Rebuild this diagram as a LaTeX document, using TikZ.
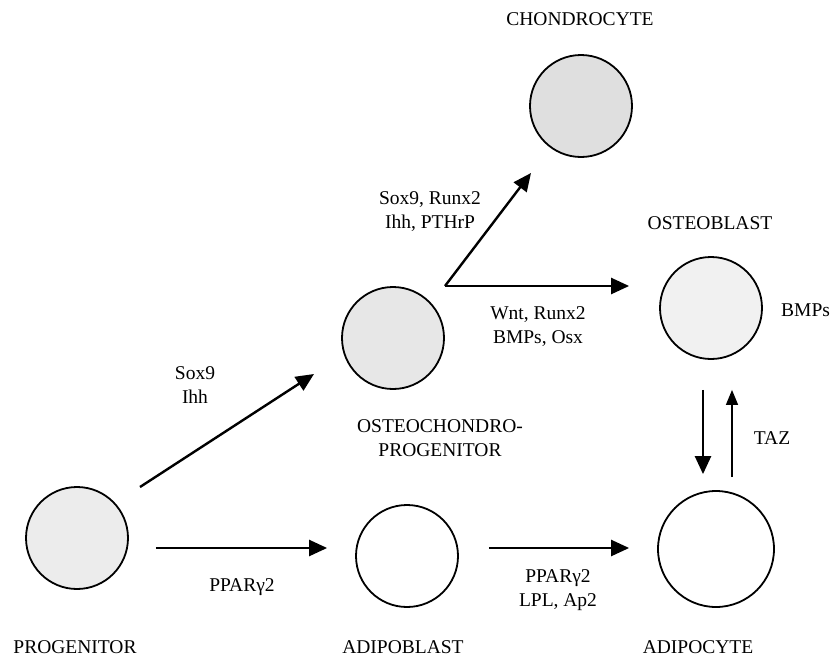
\documentclass[tikz,border=0pt]{standalone}
\usepackage{fontspec}
\setmainfont{Liberation Serif}
\usepackage{tikz}
\usetikzlibrary{arrows.meta}

\tikzset{
    cell/.style={circle, draw, line width=1.8pt, minimum size=102pt, inner sep=0pt},
    arr/.style={line width=2.4pt, -{Triangle[length=18pt,width=16pt]}},
    thinarr/.style={line width=1.4pt, -{Triangle[length=15pt,width=12pt]}},
    lbl/.style={font=\fontsize{19.5}{24}\selectfont, align=center, inner sep=0pt},
}

\begin{document}
\begin{tikzpicture}[x=1pt, y=-1pt]
        \useasboundingbox (0,0) rectangle (830,659);

        % Клетки
        \node[cell, fill=gray!15] (prog) at (77,538) {};
        \node[cell, fill=gray!19] (ocp)  at (393,338) {};
        \node[cell, fill=gray!25] (chon) at (581,106) {};
        \node[cell, fill=gray!11] (obl)  at (711,308) {};
        \node[cell] (abl) at (407,556) {};
        \node[cell, minimum size=116pt] (acy) at (716,549) {};

        % Подписи клеток
        \node[lbl] (progl) at (75,647) {PROGENITOR};
        \node[lbl] (abll)  at (403,647) {ADIPOBLAST};
        \node[lbl] (acyl)  at (698,647) {ADIPOCYTE};
        \node[lbl] (ocpl)  at (440,438) {OSTEOCHONDRO-\\PROGENITOR};
        \node[lbl] (chonl) at (580,19) {CHONDROCYTE};
        \node[lbl] (obll)  at (710,223) {OSTEOBLAST};

        % Факторы
        \node[lbl] (f1) at (195,385) {Sox9\\Ihh};
        \node[lbl] (f2) at (430,212) {Sox9, Runx2\\Ihh, PTHrP};
        \node[lbl] (f3) at (538,327) {Wnt, Runx2\\BMPs, Osx};
        \node[lbl] (f4) at (242,587) {PPARγ2};
        \node[lbl] (f5) at (558,590) {PPARγ2\\LPL, Ap2};
        \node[lbl, anchor=west] (f6) at (781,310) {BMPs};
        \node[lbl] (f7) at (772,438) {TAZ};

        % Стрелки
        \coordinate (br) at (445,286);
        \draw[arr] ([shift={(63,-51)}]prog.center) -- ([shift={(-79,36)}]ocp.center);
        \draw[arr] (br) -- ([shift={(-50,67)}]chon.center);
        \draw[arr] (br) -- ([xshift=-30pt]br -| obl.west);
        \draw[arr] ([shift={(27,10)}]prog.east) -- ([shift={(-28,-8)}]abl.west);
        \draw[arr] ([shift={(30,-8)}]abl.east) -- ([shift={(-28,-1)}]acy.west);
        \draw[arr] ([shift={(-8,30)}]obl.south) -- ([shift={(-13,-16)}]acy.north);
        \draw[thinarr] ([shift={(16,-13)}]acy.north) -- ([shift={(21,30)}]obl.south);
    \end{tikzpicture}
\end{document}
